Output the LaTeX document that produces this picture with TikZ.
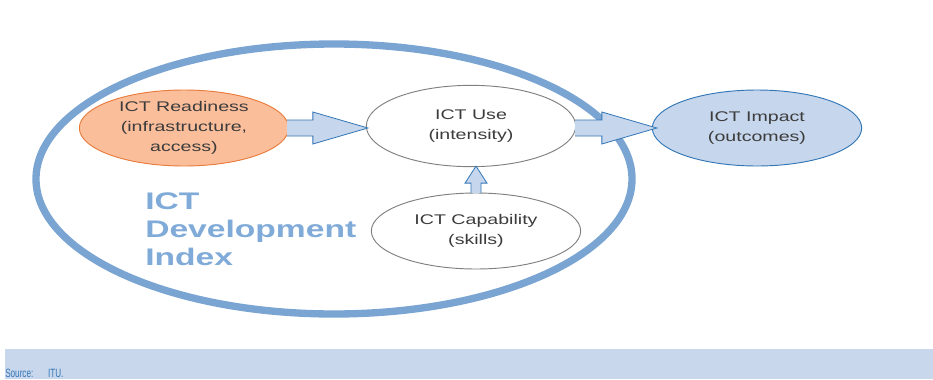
\documentclass[tikz,border=0pt]{standalone}
\usepackage{fontspec}
\setmainfont{Liberation Sans}[FakeStretch=1.4]
\newfontfamily\notefont{Liberation Sans}[FakeStretch=0.68]
\usetikzlibrary{shapes.geometric,calc}

\definecolor{ringblue}{RGB}{122,164,210}
\definecolor{titleblue}{RGB}{128,170,216}
\definecolor{edgeblue}{RGB}{50,118,182}
\definecolor{paleblue}{RGB}{198,214,236}
\definecolor{bandblue}{RGB}{200,215,236}
\definecolor{peach}{RGB}{251,190,155}
\definecolor{orangeline}{RGB}{233,123,60}
\definecolor{textgray}{RGB}{60,60,60}

\begin{document}
\begin{tikzpicture}[
            x = 0.75pt, y = -0.75pt, % one unit per pixel, y downwards
            stage/.style = {ellipse, align=center, inner sep=0pt,
                minimum width=157pt, minimum height=57pt, line width=0.7pt,
                text=textgray, font=\fontsize{10.5}{15}\selectfont},
            readiness/.style = {stage, draw=orangeline, fill=peach},
            plain/.style = {stage, draw=gray, fill=white},
            impact/.style = {stage, draw=edgeblue, fill=paleblue},
            flow/.style = {draw=edgeblue, fill=paleblue, line width=0.6pt,
                line join=miter} % block arrows
        ]

    \useasboundingbox (0,0) rectangle (933,379);

    % index ring
    \draw[ringblue, line width=5.5pt] (334,179) ellipse [x radius=298, y radius=135];

    \node[readiness] (ready) at (184,128) {ICT Readiness\\(infrastructure,\\access)};
    \node[plain, minimum width=157pt, minimum height=61pt] (use) at (471,126) {ICT Use\\(intensity)};
    \node[plain] (cap) at (476,231) {ICT Capability\\(skills)};
    \node[impact] (impact) at (757,128) {ICT Impact\\(outcomes)};

    \node[anchor=west, align=left, inner sep=0pt, text=titleblue,
          font=\fontsize{18}{21}\selectfont\bfseries] (idi) at (145,229)
          {ICT\\Development\\Index};

    % arrows between the stages
    \coordinate (r2u) at (use.west |- ready.east);
    \filldraw[flow] ($(ready.east)+(-2,-8)$) -- ($(r2u)+(-53,-8)$) -- ($(r2u)+(-53,-16)$)
        -- ($(r2u)+(2,0)$) -- ($(r2u)+(-53,16)$) -- ($(r2u)+(-53,8)$) -- ($(ready.east)+(-2,8)$);

    \coordinate (u2i) at (use.east |- impact.west);
    \coordinate (i2u) at (impact.west);
    \filldraw[flow] ($(u2i)+(-1,-8)$) -- ($(i2u)+(-50,-8)$) -- ($(i2u)+(-50,-16)$)
        -- ($(i2u)+(5,0)$) -- ($(i2u)+(-50,16)$) -- ($(i2u)+(-50,8)$) -- ($(u2i)+(-1,8)$);

    \coordinate (c2u) at (cap.north |- use.south);
    \filldraw[flow] ($(cap.north)+(-5,0.5)$) -- ($(c2u)+(-5,16)$) -- ($(c2u)+(-11,16)$)
        -- ($(c2u)+(0,-1)$) -- ($(c2u)+(11,16)$) -- ($(c2u)+(5,16)$) -- ($(cap.north)+(5,0.5)$);

    % source band
    \fill[bandblue] (5,349) rectangle (933,379);
    \node[anchor=base west, inner sep=0pt, text=edgeblue,
          font=\notefont\fontsize{9}{10}\selectfont] (src) at (5,377)
          {Source:\hspace{11pt}ITU.};

\end{tikzpicture}
\end{document}
